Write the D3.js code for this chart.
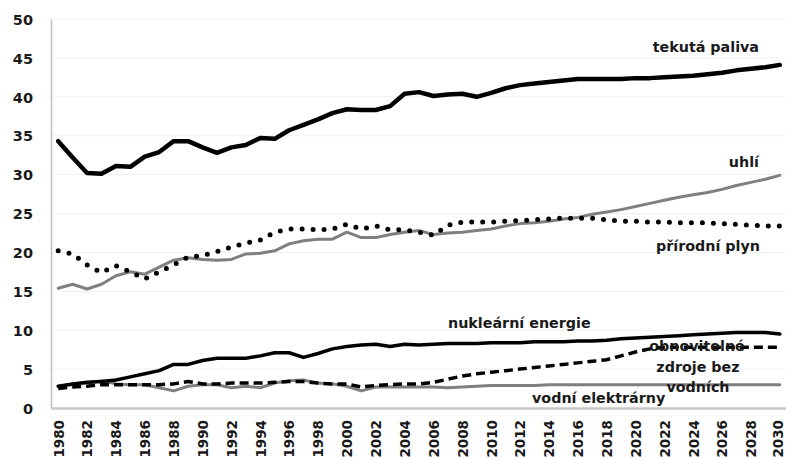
<!DOCTYPE html>
<html>
<head>
<meta charset="utf-8">
<script src="https://cdn.jsdelivr.net/npm/d3@7"></script>
<style>
  body { margin: 0; background: #fff; }
  svg text { font-family: "DejaVu Sans", sans-serif; font-weight: 700; fill: #1a1a1a; }
</style>
</head>
<body>
<div id="chart"></div>
<script>
// years on the x axis
const years = d3.range(1980, 2031);
const yTicks = [0, 5, 10, 15, 20, 25, 30, 35, 40, 45, 50];

// series values
const tekutaPaliva = [34.3, 32.2, 30.2, 30.1, 31.1, 31.0, 32.3, 32.9, 34.3, 34.3, 33.5, 32.8, 33.5, 33.8, 34.7, 34.6, 35.7, 36.4, 37.1, 37.9, 38.4, 38.3, 38.3, 38.8, 40.4, 40.6, 40.1, 40.3, 40.4, 40.0, 40.5, 41.1, 41.5, 41.7, 41.9, 42.1, 42.3, 42.3, 42.3, 42.3, 42.4, 42.4, 42.5, 42.6, 42.7, 42.9, 43.1, 43.4, 43.6, 43.8, 44.1];
const uhli = [15.4, 15.9, 15.3, 15.9, 17.0, 17.5, 17.2, 18.1, 19.0, 19.3, 19.1, 19.0, 19.1, 19.8, 19.9, 20.2, 21.1, 21.5, 21.7, 21.7, 22.6, 21.9, 21.9, 22.3, 22.6, 22.8, 22.3, 22.5, 22.6, 22.8, 23.0, 23.4, 23.7, 23.8, 24.0, 24.3, 24.5, 24.9, 25.2, 25.5, 25.9, 26.3, 26.7, 27.1, 27.4, 27.7, 28.1, 28.6, 29.0, 29.4, 29.9];
const prirodniPlyn = [20.2, 19.8, 18.4, 17.4, 18.3, 17.5, 16.6, 17.5, 18.4, 19.4, 19.6, 20.1, 20.7, 21.2, 21.6, 22.6, 23.0, 23.0, 22.9, 23.0, 23.6, 23.0, 23.4, 22.9, 22.9, 22.6, 22.2, 23.5, 23.9, 23.9, 23.9, 24.0, 24.1, 24.2, 24.3, 24.4, 24.4, 24.4, 24.2, 24.0, 24.0, 23.9, 23.9, 23.8, 23.8, 23.8, 23.7, 23.6, 23.5, 23.4, 23.4];
const nuklearni = [2.8, 3.1, 3.3, 3.4, 3.6, 4.0, 4.4, 4.8, 5.6, 5.6, 6.1, 6.4, 6.4, 6.4, 6.7, 7.1, 7.1, 6.5, 7.0, 7.6, 7.9, 8.1, 8.2, 7.9, 8.2, 8.1, 8.2, 8.3, 8.3, 8.3, 8.4, 8.4, 8.4, 8.5, 8.5, 8.5, 8.6, 8.6, 8.7, 8.9, 9.0, 9.1, 9.2, 9.3, 9.4, 9.5, 9.6, 9.7, 9.7, 9.7, 9.5];
const obnovitelne = [2.5, 2.7, 2.8, 3.0, 3.0, 3.0, 3.0, 3.0, 3.1, 3.4, 3.1, 3.1, 3.2, 3.2, 3.2, 3.3, 3.4, 3.4, 3.2, 3.1, 3.1, 2.7, 2.9, 3.0, 3.1, 3.1, 3.3, 3.7, 4.1, 4.4, 4.6, 4.8, 5.0, 5.2, 5.4, 5.6, 5.8, 6.0, 6.2, 6.7, 7.2, 7.6, 7.8, 7.8, 7.8, 7.8, 7.8, 7.8, 7.8, 7.8, 7.8];
const vodni = [2.8, 3.0, 3.2, 3.5, 3.1, 3.0, 3.0, 2.6, 2.2, 2.8, 3.0, 3.0, 2.6, 2.8, 2.6, 3.2, 3.5, 3.6, 3.2, 3.1, 2.8, 2.2, 2.7, 2.7, 2.7, 2.7, 2.7, 2.6, 2.7, 2.8, 2.9, 2.9, 2.9, 2.9, 3.0, 3.0, 3.0, 3.0, 3.0, 3.0, 3.0, 3.0, 3.0, 3.0, 3.0, 3.0, 3.0, 3.0, 3.0, 3.0, 3.0];

const width = 786, height = 459;

const svg = d3.select("#chart").append("svg")
    .attr("width", width)
    .attr("height", height);

// scales
const x = d3.scalePoint()
    .domain(years)
    .range([51, 787])
    .padding(0.5);

const y = d3.scaleLinear()
    .domain([0, 50])
    .range([408, 19]);

// faint gridlines
svg.append("g")
    .selectAll("line")
    .data(yTicks.slice(1))
    .enter()
    .append("line")
    .attr("x1", 51).attr("x2", 786)
    .attr("y1", d => y(d)).attr("y2", d => y(d))
    .attr("stroke", "#f0f0f0")
    .attr("stroke-width", 1);

// y axis
const yAxis = svg.append("g")
    .attr("transform", "translate(51,0)")
    .call(d3.axisLeft(y).tickValues(yTicks).tickSize(0).tickPadding(18));
yAxis.select(".domain").attr("stroke", "#bfbfbf").attr("stroke-width", 1.5);
yAxis.selectAll("text").style("font-size", "14.5px").attr("dy", "0.36em");

// x axis, labels turned upright
const xAxis = svg.append("g")
    .attr("transform", "translate(0,408)")
    .call(d3.axisBottom(x).tickValues(years.filter(d => d % 2 === 0)).tickSize(0));
xAxis.select(".domain").attr("stroke", "#c8c8c8").attr("stroke-width", 2.5);
xAxis.selectAll("text")
    .style("font-size", "13.5px")
    .attr("transform", "rotate(-90)")
    .attr("x", -12)
    .attr("y", d => d === 2030 ? -2 : 0) // keep the last label inside the window
    .attr("dy", "0.36em")
    .style("text-anchor", "end");

// lines
const line = d3.line()
    .x((d, i) => x(years[i]))
    .y(d => y(d));

const series = [
  { values: vodni, color: "#7f7f7f", w: 3, dash: null, cap: "round" },
  { values: uhli, color: "#7f7f7f", w: 3, dash: null, cap: "round" },
  { values: nuklearni, color: "#000", w: 3.5, dash: null, cap: "round" },
  { values: tekutaPaliva, color: "#000", w: 4.5, dash: null, cap: "round" },
  { values: obnovitelne, color: "#000", w: 3.5, dash: "9 5", cap: "butt" },
  { values: prirodniPlyn, color: "#000", w: 5, dash: "0 11", cap: "round" }
];

svg.append("g")
    .selectAll("path")
    .data(series)
    .enter()
    .append("path")
    .attr("d", d => line(d.values))
    .attr("fill", "none")
    .attr("stroke", d => d.color)
    .attr("stroke-width", d => d.w)
    .attr("stroke-linejoin", "round")
    .attr("stroke-linecap", d => d.cap)
    .attr("stroke-dasharray", d => d.dash);

// series labels
const labels = [
  { text: "tekutá paliva", x: 759, y: 47, anchor: "end" },
  { text: "uhlí", x: 759, y: 162, anchor: "end" },
  { text: "přírodní plyn", x: 760, y: 246, anchor: "end" },
  { text: "nukleární energie", x: 448, y: 323, anchor: "start" },
  { text: "obnovitelné", x: 697, y: 346, anchor: "middle" },
  { text: "zdroje bez", x: 698, y: 367, anchor: "middle" },
  { text: "vodních", x: 698, y: 387, anchor: "middle" },
  { text: "vodní elektrárny", x: 532, y: 398, anchor: "start" }
];

svg.append("g")
    .selectAll("text")
    .data(labels)
    .enter()
    .append("text")
    .attr("x", d => d.x)
    .attr("y", d => d.y)
    .attr("dy", "0.36em")
    .attr("text-anchor", d => d.anchor)
    .style("font-size", "14.3px")
    .text(d => d.text);
</script>
</body>
</html>
